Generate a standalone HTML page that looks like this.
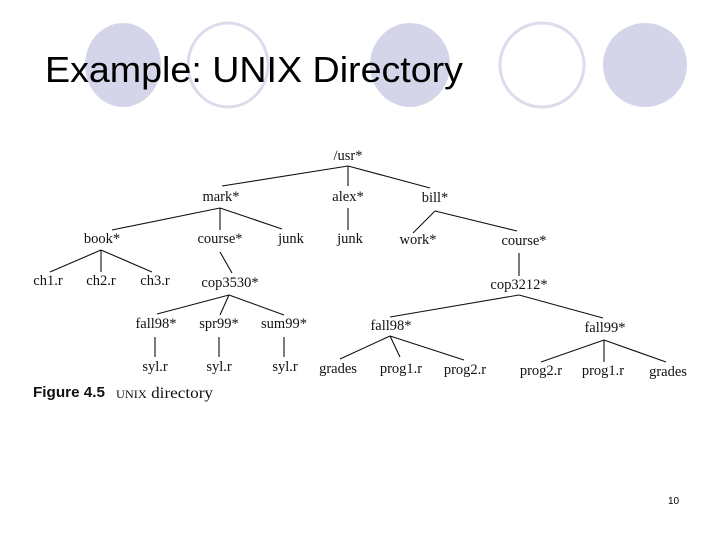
<!DOCTYPE html>
<html><head><style>
body{margin:0;background:#fff}
svg{display:block}
.t{font-family:"Liberation Serif",serif;font-size:14.5px;fill:#111;text-anchor:middle}
</style></head><body>
<svg width="720" height="540" xmlns="http://www.w3.org/2000/svg">
<ellipse cx="123" cy="65" rx="38" ry="42" fill="#d5d5ea"/>
<ellipse cx="228" cy="65" rx="40" ry="42" fill="none" stroke="#dcdcec" stroke-width="3"/>
<ellipse cx="410" cy="65" rx="40" ry="42" fill="#d5d5ea"/>
<ellipse cx="542" cy="65" rx="42" ry="42" fill="none" stroke="#dcdcec" stroke-width="3"/>
<ellipse cx="645" cy="65" rx="42" ry="42" fill="#d5d5ea"/>
<text x="45" y="82" font-family="Liberation Sans,sans-serif" font-size="36" fill="#000" textLength="418" lengthAdjust="spacingAndGlyphs">Example: UNIX Directory</text>
<g stroke="#111" stroke-width="1.1" fill="none">
<path d="M348 166 L222 186 M348 166 L348 186 M348 166 L430 188"/>
<path d="M220 208 L112 230 M220 208 L220 230 M220 208 L282 229"/>
<path d="M348 208 L348 230"/>
<path d="M435 211 L413 233 M435 211 L517 231"/>
<path d="M101 250 L50 272 M101 250 L101 272 M101 250 L152 272"/>
<path d="M220 252 L232 273"/>
<path d="M519 253 L519 276"/>
<path d="M229 295 L157 314 M229 295 L220 315 M229 295 L284 315"/>
<path d="M155 337 L155 357 M219 337 L219 357 M284 337 L284 357"/>
<path d="M519 295 L390 317 M519 295 L603 318"/>
<path d="M390 336 L340 359 M390 336 L400 357 M390 336 L464 360"/>
<path d="M604 340 L541 362 M604 340 L604 362 M604 340 L666 362"/>
</g>
<g class="t">
<text class="t" x="348" y="160">/usr*</text>
<text class="t" x="221" y="201">mark*</text>
<text class="t" x="348" y="201">alex*</text>
<text class="t" x="435" y="202">bill*</text>
<text class="t" x="102" y="243">book*</text>
<text class="t" x="220" y="243">course*</text>
<text class="t" x="291" y="243">junk</text>
<text class="t" x="350" y="243">junk</text>
<text class="t" x="418" y="244">work*</text>
<text class="t" x="524" y="245">course*</text>
<text class="t" x="48" y="285">ch1.r</text>
<text class="t" x="101" y="285">ch2.r</text>
<text class="t" x="155" y="285">ch3.r</text>
<text class="t" x="230" y="287">cop3530*</text>
<text class="t" x="519" y="289">cop3212*</text>
<text class="t" x="156" y="328">fall98*</text>
<text class="t" x="219" y="328">spr99*</text>
<text class="t" x="284" y="328">sum99*</text>
<text class="t" x="391" y="330">fall98*</text>
<text class="t" x="605" y="332">fall99*</text>
<text class="t" x="155" y="371">syl.r</text>
<text class="t" x="219" y="371">syl.r</text>
<text class="t" x="285" y="371">syl.r</text>
<text class="t" x="338" y="373">grades</text>
<text class="t" x="401" y="373">prog1.r</text>
<text class="t" x="465" y="374">prog2.r</text>
<text class="t" x="541" y="375">prog2.r</text>
<text class="t" x="603" y="375">prog1.r</text>
<text class="t" x="668" y="376">grades</text>
</g>
<text x="33" y="397" font-family="Liberation Sans,sans-serif" font-weight="bold" font-size="15" fill="#111" textLength="72" lengthAdjust="spacingAndGlyphs">Figure 4.5</text>
<text x="116" y="398" font-family="Liberation Serif,serif" font-size="16" fill="#111" textLength="97" lengthAdjust="spacingAndGlyphs"><tspan font-size="11.5">UNIX</tspan> directory</text>
<text x="668" y="504" font-family="Liberation Sans,sans-serif" font-size="10" fill="#000">10</text>
</svg>
</body></html>
